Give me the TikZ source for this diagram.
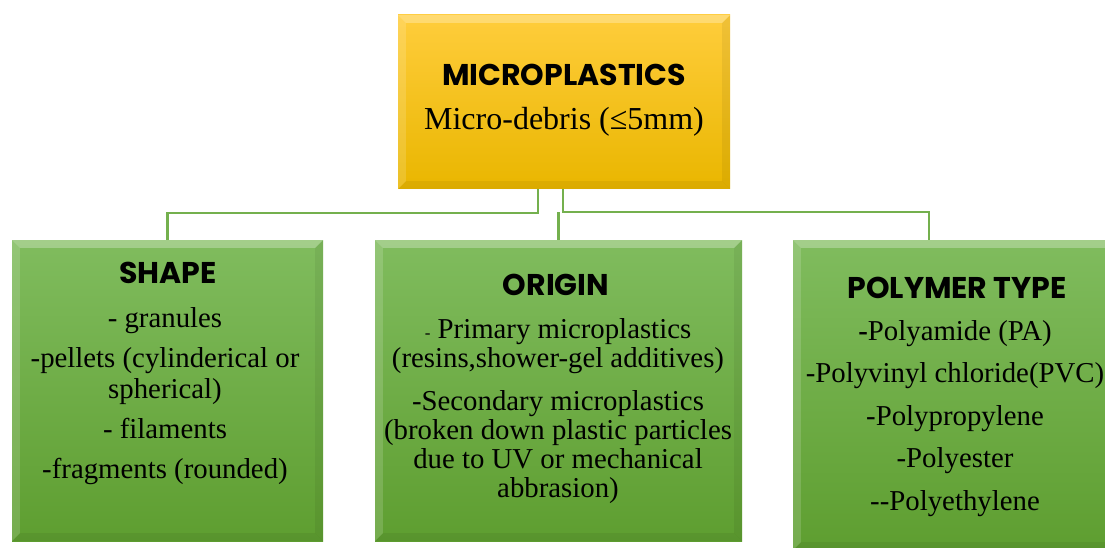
\documentclass[tikz,border=0pt]{standalone}
\usepackage{fontspec}
\setmainfont{Liberation Serif}
\newfontfamily\poppins{Poppins}
\definecolor{goldtop}{RGB}{255,205,60}
\definecolor{goldbot}{RGB}{233,182,0}
\definecolor{leaftop}{RGB}{128,188,94}
\definecolor{leafbot}{RGB}{94,158,48}
\definecolor{stem}{RGB}{116,176,78}
\newcommand{\FTitle}{\fontsize{30}{34}\selectfont\poppins\bfseries}
\newcommand{\FBody}{\fontsize{28.8}{31}\selectfont}
% light and dark edges round a box
\newcommand{\bevel}[1]{%
  \fill[white,opacity=.28] (#1.north west) -- (#1.north east) -- ([shift={(-8,-8)}]#1.north east) -- ([shift={(8,-8)}]#1.north west) -- cycle;
  \fill[white,opacity=.15] (#1.north west) -- ([shift={(8,-8)}]#1.north west) -- ([shift={(8,8)}]#1.south west) -- (#1.south west) -- cycle;
  \fill[black,opacity=.06] (#1.north east) -- ([shift={(-8,-8)}]#1.north east) -- ([shift={(-8,8)}]#1.south east) -- (#1.south east) -- cycle;
  \fill[black,opacity=.06] (#1.south west) -- ([shift={(8,8)}]#1.south west) -- ([shift={(-8,8)}]#1.south east) -- (#1.south east) -- cycle;}

\begin{document}
\begin{tikzpicture}[x=1pt,y=1pt]
\tikzstyle{card}=[draw=none,inner sep=0pt]
\tikzstyle{gold}=[card,top color=goldtop,bottom color=goldbot]
\tikzstyle{leaf}=[card,top color=leaftop,bottom color=leafbot]
\tikzstyle{head}=[inner sep=0pt,anchor=base,black,font=\FTitle]
\tikzstyle{body}=[inner sep=0pt,anchor=north,align=center,black,font=\FBody]
\tikzstyle{link}=[stem,line width=2.5pt]

\useasboundingbox (0,0) rectangle (1105,547);
\clip (0,0) rectangle (1105,547);

\node[gold,minimum width=332pt,minimum height=174pt] (micro) at (564,445) {};
\node[leaf,minimum width=311pt,minimum height=301pt] (shape) at (167.5,156.5) {};
\node[leaf,minimum width=367pt,minimum height=301pt] (origin) at (558.5,156.5) {};
\node[leaf,minimum width=320pt,minimum height=310pt] (polymer) at (953,152) {};
\bevel{micro}
\bevel{shape}
\bevel{origin}
\bevel{polymer}

\coordinate (fork) at ([xshift=-1pt,yshift=-23pt]micro.south);
\draw[link] ([xshift=-26pt]micro.south) -- ++(0,-24) -| (shape.north);
\draw[link] ([xshift=-1pt]micro.south) -- (fork) -| ([xshift=-24pt]polymer.north);
\draw[link] (origin.north) -- (origin.north |- fork);

\node[head] (microT) at (564,461) {MICROPLASTICS};
\node[inner sep=0pt,anchor=base,font=\fontsize{32}{34}\selectfont] (microS) at (564,417) {Micro-debris (≤5mm)};

\node[head] (shapeT) at (168,264) {SHAPE};
\node[body] (shapeB) at (165,240) {- granules\\[9pt] -pellets (cylinderical or\\ spherical)\\[9pt] - filaments\\[9pt] -fragments (rounded)};

\node[head] (originT) at (556,252) {ORIGIN};
\node[body,font=\fontsize{28.8}{29}\selectfont] (originB) at (558,229) {{\fontsize{17}{17}\selectfont -} Primary microplastics\\ (resins,shower-gel additives)\\[14pt] -Secondary microplastics\\ (broken down plastic particles\\ due to UV or mechanical\\ abbrasion)};

\node[head] (polymerT) at (957,249) {POLYMER TYPE};
\node[body] (polymerB) at (955,227) {\textbf{-}Polyamide (PA)\\[11.5pt] -Polyvinyl chloride(PVC)\\[11.5pt] -Polypropylene\\[11.5pt] -Polyester\\[11.5pt] -{}-Polyethylene};
\end{tikzpicture}
\end{document}
